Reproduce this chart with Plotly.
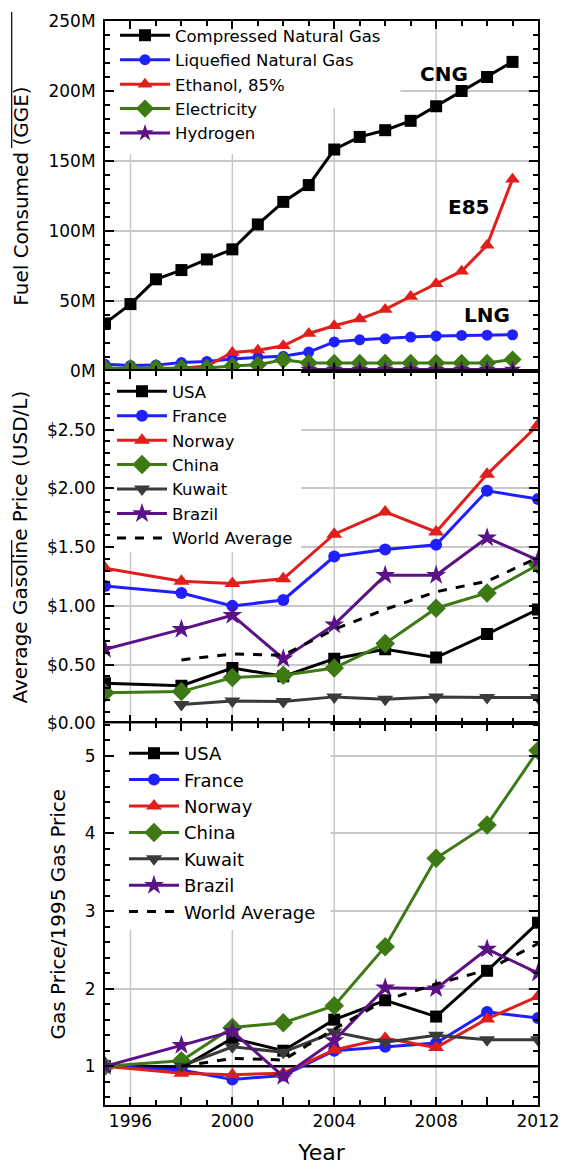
import plotly.graph_objects as go

# ---- Panel 1: alternative fuel consumed, millions of GGE ----
fuel_years = [1995, 1996, 1997, 1998, 1999, 2000, 2001, 2002, 2003,
              2004, 2005, 2006, 2007, 2008, 2009, 2010, 2011]
cng = [34.0, 47.8, 65.5, 72.1, 79.7, 86.9, 104.7, 120.8, 132.8,
       158.2, 167.2, 172.0, 178.7, 189.1, 200.0, 210.0, 220.8]
lng = [4.8, 4.0, 4.2, 6.0, 6.8, 8.6, 9.8, 10.5, 13.5,
       20.8, 22.3, 23.0, 24.2, 25.0, 25.4, 25.6, 25.9]
e85 = [1.0, 1.3, 1.6, 2.0, 3.6, 13.2, 14.8, 18.0, 26.8,
       32.3, 37.1, 44.0, 53.2, 62.3, 71.3, 89.8, 137.0]
electricity = [2.0, 2.0, 2.0, 2.0, 2.2, 3.5, 4.5, 8.0, 5.8,
               5.8, 5.8, 5.8, 5.8, 5.8, 5.8, 5.8, 8.2]
hydrogen_years = [2003, 2004, 2005, 2006, 2007, 2008, 2009, 2010, 2011]
hydrogen = [1.0, 1.0, 1.0, 1.0, 1.0, 1.0, 1.0, 1.0, 1.0]

# ---- Panels 2 and 3: gasoline prices by country ----
price_years = [1995, 1998, 2000, 2002, 2004, 2006, 2008, 2010, 2012]
price_usa = [0.34, 0.32, 0.47, 0.40, 0.55, 0.63, 0.56, 0.76, 0.97]
price_france = [1.17, 1.11, 1.00, 1.05, 1.42, 1.48, 1.52, 1.98, 1.91]
price_norway = [1.32, 1.21, 1.19, 1.23, 1.61, 1.80, 1.63, 2.12, 2.54]
price_china = [0.26, 0.27, 0.39, 0.41, 0.47, 0.68, 0.98, 1.11, 1.35]
price_kuwait = [None, 0.16, 0.19, 0.185, 0.225, 0.205, 0.225, 0.22, 0.22]
price_brazil = [0.63, 0.80, 0.92, 0.55, 0.84, 1.26, 1.26, 1.58, 1.39]
price_world = [None, 0.54, 0.59, 0.58, 0.80, 0.97, 1.12, 1.21, 1.41]

ratio_usa = [1.0, 0.98, 1.36, 1.20, 1.60, 1.85, 1.64, 2.23, 2.85]
ratio_france = [1.0, 0.95, 0.83, 0.88, 1.20, 1.25, 1.30, 1.70, 1.62]
ratio_norway = [1.0, 0.91, 0.89, 0.91, 1.21, 1.36, 1.24, 1.61, 1.90]
ratio_china = [1.0, 1.07, 1.50, 1.56, 1.78, 2.54, 3.68, 4.11, 5.07]
ratio_kuwait = [None, 1.0, 1.25, 1.18, 1.44, 1.31, 1.40, 1.34, 1.34]
ratio_brazil = [1.0, 1.27, 1.45, 0.87, 1.33, 2.01, 2.00, 2.51, 2.20]
ratio_world = [None, 1.0, 1.10, 1.08, 1.48, 1.85, 2.06, 2.24, 2.58]

# axis ranges, ticks and tick labels
year_range = [1995, 2012]
year_ticks = [1996, 1998, 2000, 2002, 2004, 2006, 2008, 2010, 2012]
year_labels = ["1996", "", "2000", "", "2004", "", "2008", "", "2012"]
year_grid = [1996, 2000, 2004, 2008]
fuel_range = [0, 250]
price_range = [0, 3.0]
price_ticks = [0, 0.5, 1.0, 1.5, 2.0, 2.5]
price_labels = ["$0.00", "$0.50", "$1.00", "$1.50", "$2.00", "$2.50"]
ratio_range = [0.5, 5.42]
ratio_baseline = 1.0

FONT = "DejaVu Sans"
BLACK = "#000000"
BLUE = "#1f1fff"
RED = "#e01f1b"
GREEN = "#3d7a14"
PURPLE = "#5c1286"
GRAY = "#3a3a3a"
GRID = "#c8c8c8"

LINE_W = 3
fig = go.Figure()


def add_series(x, y, name, color, symbol, size, xa, ya, legend, dash="solid", mode="lines+markers"):
    fig.add_trace(go.Scatter(
        x=x, y=y, name=name, mode=mode, xaxis=xa, yaxis=ya, legend=legend,
        line=dict(color=color, width=LINE_W, dash=dash),
        marker=dict(color=color, symbol=symbol, size=size, line=dict(width=0)),
        connectgaps=False,
    ))


# Panel 1 traces
add_series(fuel_years, cng, "Compressed Natural Gas", BLACK, "square", 12, "x", "y", "legend")
add_series(fuel_years, lng, "Liquefied Natural Gas", BLUE, "circle", 11, "x", "y", "legend")
add_series(fuel_years, e85, "Ethanol, 85%", RED, "triangle-up", 13, "x", "y", "legend")
add_series(fuel_years, electricity, "Electricity", GREEN, "diamond", 14, "x", "y", "legend")
add_series(hydrogen_years, hydrogen, "Hydrogen", PURPLE, "star", 13, "x", "y", "legend")

# Panel 3 baseline (ratio = 1), drawn first so the markers sit on top of it
fig.add_trace(go.Scatter(
    x=year_range, y=[ratio_baseline, ratio_baseline], mode="lines",
    line=dict(color="black", width=2.5), xaxis="x3", yaxis="y3",
    showlegend=False, hoverinfo="skip",
))

# Panels 2 and 3 traces
countries = [
    ("USA", price_usa, ratio_usa, BLACK, "square", 12, "solid", "lines+markers"),
    ("France", price_france, ratio_france, BLUE, "circle", 12, "solid", "lines+markers"),
    ("Norway", price_norway, ratio_norway, RED, "triangle-up", 14, "solid", "lines+markers"),
    ("China", price_china, ratio_china, GREEN, "diamond", 15, "solid", "lines+markers"),
    ("Kuwait", price_kuwait, ratio_kuwait, GRAY, "triangle-down", 14, "solid", "lines+markers"),
    ("Brazil", price_brazil, ratio_brazil, PURPLE, "star", 15, "solid", "lines+markers"),
    ("World Average", price_world, ratio_world, BLACK, "circle", 1, "dash", "lines"),
]
for name, p, r, color, sym, size, dash, mode in countries:
    add_series(price_years, p, name, color, sym, size, "x2", "y2", "legend2", dash=dash, mode=mode)
for name, p, r, color, sym, size, dash, mode in countries:
    add_series(price_years, r, name, color, sym, size, "x3", "y3", "legend3", dash=dash, mode=mode)

# ---- Layout ----
TOP, BOTTOM, LEFT, RIGHT = 21, 60, 105, 25
PLOT_H = 1165 - TOP - BOTTOM
PLOT_W = 563 - LEFT - RIGHT


def py(px):
    """Pixel row on the page -> paper y."""
    return (1165 - BOTTOM - px) / PLOT_H


def pxx(px):
    """Pixel column on the page -> paper x."""
    return (px - LEFT) / PLOT_W


tick_font = dict(family=FONT, size=17, color="black")
title_font = dict(family=FONT, size=20, color="black")


def x_axis(show_labels, anchor):
    return dict(
        range=year_range, tickmode="array", tickvals=year_ticks, ticktext=year_labels,
        anchor=anchor, automargin=False,
        ticks="inside", ticklen=8, tickwidth=1.5, tickcolor="black",
        showline=True, linecolor="black", linewidth=2, mirror="ticks",
        showgrid=False, zeroline=False,
        minor=dict(tickmode="linear", tick0=1995, dtick=1, ticks="inside", ticklen=5,
                   tickwidth=1.5, tickcolor="black", showgrid=False),
        showticklabels=show_labels, tickfont=tick_font,
    )


def y_axis(domain, anchor, **kw):
    base = dict(
        domain=domain, anchor=anchor, automargin=False,
        ticks="inside", ticklen=9, tickwidth=1.5, tickcolor="black",
        showline=True, linecolor="black", linewidth=2, mirror="ticks",
        showgrid=True, gridcolor=GRID, gridwidth=1.5, zeroline=False,
        tickfont=tick_font, ticklabelstandoff=4,
    )
    base.update(kw)
    return base


d3 = [0, py(723.3)]
d2 = [py(723.3), py(371)]
d1 = [py(371), 1]

legend_common = dict(xanchor="left", yanchor="top", bgcolor="rgba(0,0,0,0)",
                     itemwidth=50, tracegroupgap=0)

fig.update_layout(
    width=563, height=1165,
    margin=dict(l=LEFT, r=RIGHT, t=TOP, b=BOTTOM, autoexpand=False),
    plot_bgcolor="white", paper_bgcolor="white",
    font=dict(family=FONT, color="black"),
    xaxis=x_axis(False, "y"),
    xaxis2=x_axis(False, "y2"),
    xaxis3=dict(x_axis(True, "y3"),
                title=dict(text="Year", font=dict(family=FONT, size=22), standoff=17)),
    yaxis=y_axis(d1, "x", range=fuel_range, tick0=0, dtick=50, ticksuffix="M",
                 minor=dict(dtick=10, ticks="inside", ticklen=5, tickwidth=1.5,
                            tickcolor="black", showgrid=False),
                 title=dict(text="Fuel Consumed (GGE)", font=title_font, standoff=14)),
    yaxis2=y_axis(d2, "x2", range=price_range, tickmode="array",
                  tickvals=price_ticks, ticktext=price_labels,
                  minor=dict(tickmode="linear", tick0=0, dtick=0.1, ticks="inside", ticklen=5,
                             tickwidth=1.5, tickcolor="black", showgrid=False),
                  title=dict(text="Average Gasoline Price (USD/L)", font=title_font, standoff=14)),
    yaxis3=y_axis(d3, "x3", range=ratio_range, tick0=1, dtick=1,
                  minor=dict(tick0=0, dtick=0.2, ticks="inside", ticklen=5,
                             tickwidth=1.5, tickcolor="black", showgrid=False),
                  title=dict(text="Gas Price/1995 Gas Price", font=title_font, standoff=14)),
    legend=dict(legend_common, x=pxx(115), y=py(18), font=dict(family=FONT, size=16.5)),
    legend2=dict(legend_common, x=pxx(112), y=py(374), font=dict(family=FONT, size=16.5)),
    legend3=dict(legend_common, x=pxx(124), y=py(735), font=dict(family=FONT, size=18)),
    showlegend=True,
)

# Vertical gridlines every four years, under the horizontal ones
for xr, yr, yrange in [("x", "y", fuel_range), ("x2", "y2", price_range), ("x3", "y3", ratio_range)]:
    for gx in year_grid:
        fig.add_shape(type="line", xref=xr, yref=yr, x0=gx, x1=gx, y0=yrange[0], y1=yrange[1],
                      line=dict(color=GRID, width=1.5), layer="below")

# White panels behind the legends hide the gridlines there (traces stay on top)
legend_patches = [
    ("x", "y", 1995, 2003.2, 155, 250),
    ("x", "y", 2003.2, 2006.6, 188, 250),
    ("x2", "y2", 1995, 2002.7, 1.46, 3.0),
    ("x3", "y3", 1995, 2003.85, 2.76, 5.42),
]
for xr, yr, xa, xb, ya, yb in legend_patches:
    fig.add_shape(type="rect", xref=xr, yref=yr, x0=xa, x1=xb, y0=ya, y1=yb,
                  fillcolor="white", line=dict(width=0), layer="between")

# Thin rule along the left page edge
for y_top, y_bot in [(12, 148), (540, 587)]:
    fig.add_shape(type="line", xref="paper", yref="paper",
                  x0=pxx(11.7), x1=pxx(11.7), y0=py(y_top), y1=py(y_bot),
                  line=dict(color="black", width=1.2))

# Series labels in the top panel
label_font = dict(family=FONT, size=20, color="black", weight="bold")
for text, lx, ly in [("CNG", 2008.3, 212), ("E85", 2009.3, 117), ("LNG", 2010.0, 40)]:
    fig.add_annotation(x=lx, y=ly, xref="x", yref="y", text=f"<b>{text}</b>",
                       showarrow=False, font=label_font)

fig.write_html("out.html")
